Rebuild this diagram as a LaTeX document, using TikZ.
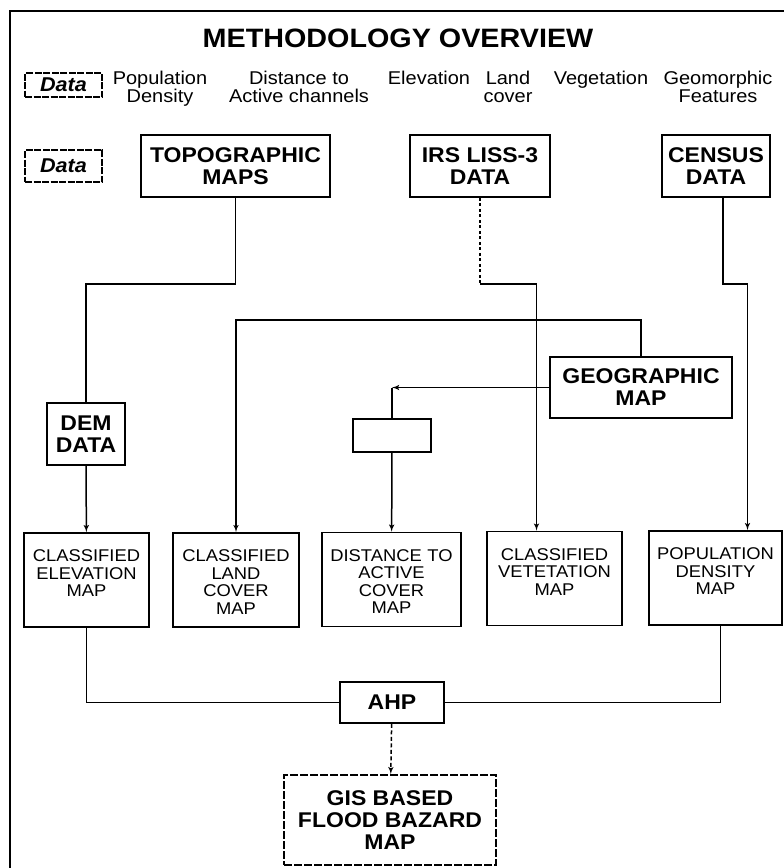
\documentclass[tikz,border=0pt]{standalone}
\usepackage{fontspec}
\setmainfont{Liberation Sans}[FakeStretch=1.08]
\usetikzlibrary{arrows, positioning}

\begin{document}
\begin{tikzpicture}[
        x=1pt, y=-1pt,
        >=latex,
        box/.style={rectangle, draw, line width=1.6pt, align=center, inner sep=2pt, font=\fontsize{21.3}{22}\selectfont\bfseries},
        mapbox/.style={rectangle, draw, line width=1.6pt, align=center, inner xsep=4pt, inner ysep=4pt, text height=24.5pt, text depth=61.5pt, font=\fontsize{17}{17.6}\selectfont},
        databox/.style={rectangle, draw, dash pattern=on 7pt off 1.5pt, line width=1.4pt, minimum width=77pt, font=\fontsize{20}{22}\selectfont\bfseries\itshape},
        header/.style={inner sep=0pt, align=center, anchor=north, font=\fontsize{18.5}{18}\selectfont},
        line/.style={draw, line width=1.5pt, -latex'},
        link/.style={draw, line width=1.5pt}
    ]
        \useasboundingbox (0,0) rectangle (784,868);
        \draw[line width=2pt] (10,868) -- (10,11) -- (784,11);

        % Title and legend
        \node [anchor=base, font=\fontsize{26.6}{30}\selectfont\bfseries] (title) at (398,47) {METHODOLOGY OVERVIEW};
        \node [databox, minimum height=24pt] (data_top) at (63.5,85) {Data};
        \node [databox, minimum height=32pt] (data_mid) at (63.5,166) {Data};

        \node [header] (h_pop) at (160,70.5) {Population\\Density};
        \node [header] (h_dist) at (299,70.5) {Distance to\\Active channels};
        \node [header] (h_elev) at (429,70.5) {Elevation};
        \node [header] (h_land) at (508,70.5) {Land\\cover};
        \node [header] (h_veg) at (601,70.5) {Vegetation};
        \node [header] (h_geo) at (718,70.5) {Geomorphic\\Features};

        % Input data
        \node [box, minimum width=189pt, minimum height=62pt] (topo) at (235.5,166) {TOPOGRAPHIC\\MAPS};
        \node [box, minimum width=140pt, minimum height=62pt] (irs) at (480,166) {IRS LISS-3\\DATA};
        \node [box, minimum width=108pt, minimum height=62pt] (census) at (716,166) {CENSUS\\DATA};

        % Intermediate
        \node [box, minimum width=78pt, minimum height=62pt] (dem) at (86,434) {DEM\\DATA};
        \node [box, minimum width=182pt, minimum height=61pt] (geo) at (641,387.5) {GEOGRAPHIC\\MAP};
        \node [box, minimum width=78pt, minimum height=33pt] (blank) at (392,435.5) {};

        % Thematic maps
        \node [mapbox, text width=117pt] (elev_map) at (86.5,580) {CLASSIFIED\\ELEVATION\\MAP};
        \node [mapbox, text width=118pt] (land_map) at (236,580) {CLASSIFIED\\LAND\\COVER\\MAP};
        \node [mapbox, text width=131pt] (dist_map) at (391.5,579.5) {DISTANCE TO\\ACTIVE\\COVER\\MAP};
        \node [mapbox, text width=127pt] (veg_map) at (554.5,578.5) {CLASSIFIED\\VETETATION\\MAP};
        \node [mapbox, text width=125pt] (pop_map) at (715.5,578) {POPULATION\\DENSITY\\MAP};

        % Output
        \node [box, minimum width=104pt, minimum height=41pt] (ahp) at (392,702.5) {AHP};
        \node [box, dash pattern=on 8pt off 2pt, minimum width=212pt, minimum height=90pt] (gis) at (390,820) {GIS BASED\\FLOOD BAZARD\\MAP};

        % Paths
        \path [link] (topo.south) -- ++(0,86) -| (dem.north);
        \path [line] (dem) -- (elev_map);
        \path [link, dash pattern=on 3pt off 2.5pt] (irs.south) -- ++(0,86) coordinate (irs_bend);
        \path [line] (irs_bend) -| ([xshift=-18pt]veg_map.north);
        \path [line] ([xshift=7pt]census.south) -- ++(0,86) -| ([xshift=32pt]pop_map.north);
        \path [line] (geo.north) -- ++(0,-36) -| (land_map.north);
        \path [line] (geo.west) -- (blank.north |- geo.west) coordinate (geo_corner);
        \path [link] (geo_corner) -- (blank.north);
        \path [line] (blank) -- (dist_map);
        \path [link] (elev_map.south) |- (ahp.west);
        \path [link] ([xshift=5pt]pop_map.south) |- (ahp.east);
        \path [line, dash pattern=on 4pt off 2.5pt] (ahp) -- (gis);

    \end{tikzpicture}
\end{document}
